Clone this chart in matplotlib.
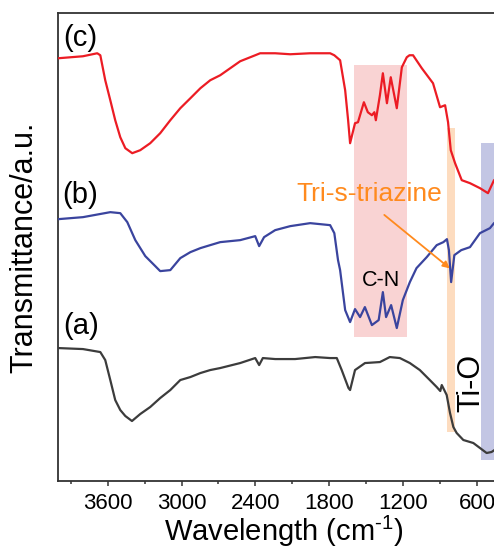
import matplotlib
matplotlib.use("Agg")
import matplotlib.pyplot as plt

plt.rcParams['font.family'] = ['Liberation Sans', 'DejaVu Sans']
plt.rcParams['mathtext.fontset'] = 'custom'
plt.rcParams['mathtext.rm'] = 'Liberation Sans'

# FTIR spectra (wavenumber in cm-1, transmittance in a.u.)
wn_c = [4000, 3900, 3800, 3684, 3659, 3619, 3578, 3538, 3497, 3456, 3400, 3335, 3254, 3173,
        3091, 3010, 2928, 2847, 2767, 2686, 2605, 2524, 2402, 2362, 2240, 2118, 1956, 1794,
        1760, 1713, 1672, 1648, 1632, 1592, 1568, 1520, 1488, 1455, 1435, 1423, 1390, 1366,
        1333, 1302, 1253, 1212, 1172, 1150, 1121, 1050, 959, 902, 861, 837, 815, 780, 726,
        659, 578, 513, 464, 400]
tr_c = [423, 424, 425, 428, 426, 401, 381, 361, 344, 333, 328, 331, 338, 348,
        361, 373, 383, 393, 401, 406, 413, 420, 426, 428, 428, 427, 428, 428,
        426, 421, 391, 361, 338, 358, 359, 379, 369, 366, 369, 361, 386, 408,
        378, 404, 373, 414, 424, 426, 426, 413, 398, 374, 376, 359, 331, 318, 301,
        298, 293, 288, 301, 306]

wn_b = [4000, 3800, 3578, 3497, 3440, 3375, 3294, 3213, 3173, 3091, 3010, 2928, 2847, 2767,
        2686, 2524, 2402, 2370, 2330, 2240, 2118, 1956, 1794, 1760, 1730, 1713, 1672, 1632,
        1592, 1551, 1512, 1455, 1400, 1366, 1340, 1299, 1253, 1204, 1147, 1093, 1010, 929,
        875, 846, 830, 812, 786, 730, 659, 578, 497, 464, 400]
tr_b = [262, 264, 269, 268, 259, 241, 225, 215, 210, 211, 223, 229, 233, 236,
        239, 241, 245, 235, 244, 251, 255, 258, 256, 248, 221, 211, 171, 159,
        172, 164, 174, 156, 161, 189, 164, 176, 153, 181, 199, 213, 224, 236,
        239, 242, 231, 199, 226, 231, 234, 248, 253, 258, 263]

wn_a = [4000, 3800, 3659, 3619, 3578, 3538, 3497, 3456, 3402, 3335, 3254, 3173, 3091, 3010,
        2928, 2847, 2767, 2686, 2524, 2402, 2370, 2340, 2240, 2078, 1915, 1794, 1740, 1700,
        1645, 1632, 1592, 1511, 1390, 1310, 1228, 1147, 1066, 985, 929, 900, 888, 848, 821,
        794, 767, 713, 632, 578, 524, 484, 400]
tr_a = [133, 132, 129, 121, 101, 81, 71, 65, 60, 67, 74, 83, 91, 101,
        104, 108, 111, 113, 118, 123, 116, 123, 122, 122, 124, 123, 123, 111,
        93, 91, 111, 118, 119, 124, 123, 118, 111, 101, 94, 90, 96, 86, 68,
        54, 48, 41, 38, 33, 28, 29, 36]

# highlighted bands: (wn_high, wn_low, tr_low, tr_high)
band_cn = [1597, 1167, 144, 416]
band_triazine = [842, 780, 49, 353]
band_tio = [567, 400, 21, 338]

fig = plt.figure(figsize=(4.94, 5.49), dpi=100)
ax = fig.add_axes([0.118, 0.1239, 0.898, 0.8519])

ax.fill_between(band_cn[:2], band_cn[2], band_cn[3], color='#f9d3d3', lw=0, zorder=1)
ax.fill_between(band_triazine[:2], band_triazine[2], band_triazine[3], color='#fddcbf', lw=0, zorder=1)
ax.fill_between(band_tio[:2], band_tio[2], band_tio[3], color='#c3c6e4', lw=0, zorder=1)

ax.plot(wn_c, tr_c, color='#ec1c24', lw=1.6, zorder=3)
ax.plot(wn_b, tr_b, color='#3a449e', lw=1.6, zorder=3)
ax.plot(wn_a, tr_a, color='#3c3c3c', lw=1.6, zorder=3)

ax.set_xlim(4000, 400)
ax.set_ylim(0, 468)
ax.set_xticks([3600, 3000, 2400, 1800, 1200, 600])
ax.set_xticks([3900, 3300, 2700, 2100, 1500, 900], minor=True)
ax.set_yticks([])
ax.tick_params(axis='x', which='major', direction='out', length=3.6, width=1.1,
               labelsize=16, pad=5, color='#333333')
ax.tick_params(axis='x', which='minor', direction='out', length=2.2, width=1.1, color='#333333')
for sp in ax.spines.values():
    sp.set_linewidth(1.3)
    sp.set_color('#333333')

ax.text(3821, 443, '(c)', fontsize=21, ha='center', va='center')
ax.text(3821, 286, '(b)', fontsize=21, ha='center', va='center')
ax.text(3815, 155, '(a)', fontsize=21, ha='center', va='center')
ax.text(1478, 287, 'Tri-s-triazine', fontsize=19, color='#ff8a1e', ha='center', va='center')
ax.text(1380, 201, 'C-N', fontsize=15.5, ha='center', va='center')
ax.text(650, 98, 'Ti-O', fontsize=22, rotation=90, ha='center', va='center')
ax.annotate('', xy=(805, 211), xytext=(1372, 268),
            arrowprops=dict(arrowstyle='-|>', color='#ff8a1e', lw=1.3, mutation_scale=10))

fig.text(24 / 494, 1 - 247 / 549, 'Transmittance/a.u.', fontsize=22, rotation=90,
         ha='center', va='center')
fig.text(284 / 494, 1 - 541 / 549, 'Wavelength (cm$^{\\text{-1}}$)', fontsize=21,
         ha='center', va='baseline')

fig.savefig('out.png', dpi=100)
